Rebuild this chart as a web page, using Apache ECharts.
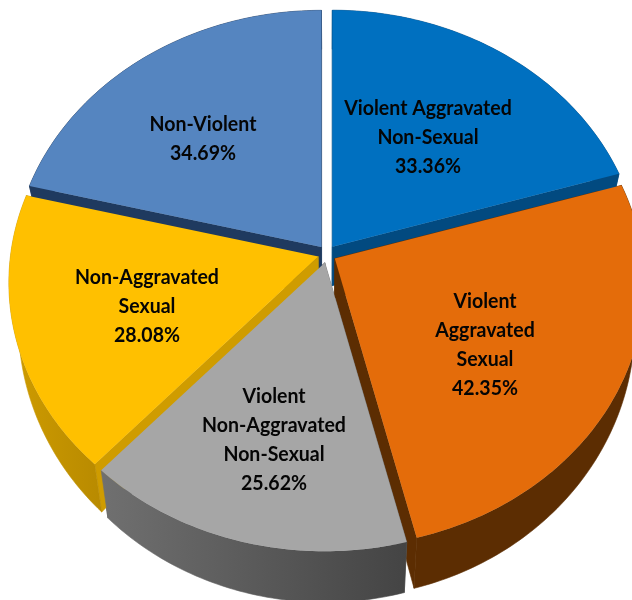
<!DOCTYPE html>
<html>
<head>
<meta charset="utf-8">
<style>html,body{margin:0;padding:0;background:#fff}#chart{width:632px;height:600px}</style>
<script src="https://cdn.jsdelivr.net/npm/echarts@6/dist/echarts.min.js"></script>
</head>
<body>
<div id="chart"></div>
<script>
// Offence categories and their shares, clockwise from twelve o'clock
const categories = [
  'Violent Aggravated\nNon-Sexual',
  'Violent\nAggravated\nSexual',
  'Violent\nNon-Aggravated\nNon-Sexual',
  'Non-Aggravated\nSexual',
  'Non-Violent'
];
const values = [33.36, 42.35, 25.62, 28.08, 34.69];

// Styling per slice: top face, wall start and wall end colours
const faceColors = ['#0070c0', '#e46c0a', '#a6a6a6', '#ffc000', '#5585c0'];
const wallFrom = ['#024a80', '#5c2d02', '#707070', '#cf9c00', '#1f3a5f'];
const wallTo = ['#024a80', '#5c2d02', '#444444', '#b88a00', '#1f3a5f'];
const labelAnchors = [[428, 137], [485, 345], [274, 440], [147, 306], [203, 139]];
// Back-to-front painting order of the slices
const paintOrder = [4, 0, 3, 2, 1];

// Tilted-disc projection
const disc = { cx: 327, cy: 254, rx: 308, ry: 260, k: 0.099, explode: 9, shrink: 0.97 };

const total = values.reduce((a, b) => a + b, 0);
const spans = [];
values.reduce((start, v) => {
  const end = start + v / total * 360;
  spans.push([start, end]);
  return end;
}, 0);

function project(deg, radius, tip) {
  const t = deg * Math.PI / 180;
  const u = Math.sin(t) * radius, v = -Math.cos(t) * radius;
  const w = 1 - disc.k * v;
  return [tip[0] + disc.rx * u / w, tip[1] + disc.ry * v / w, v];
}
function drop(p) {
  return [disc.cx + (p[0] - disc.cx) * disc.shrink, p[1] + 39 + 12 * Math.max(p[2], 0)];
}
function poly(points, fill, z2, seal) {
  return { type: 'polygon', z2, silent: true,
    shape: { points: points.map(p => [p[0], p[1]]) },
    style: { fill, stroke: seal ? fill : null, lineWidth: seal ? 0.6 : 0 } };
}

function renderSlice(params) {
  const i = paintOrder[params.dataIndex];
  const [a0, a1] = spans[i];
  const mid = (a0 + a1) / 2 * Math.PI / 180;
  const tip = [disc.cx + disc.explode * Math.sin(mid), disc.cy - disc.explode * Math.cos(mid)];
  const arc = [];
  for (let a = a0; a < a1; a += 1) arc.push(project(a, 1, tip));
  arc.push(project(a1, 1, tip));
  const tipPt = [tip[0], tip[1], 0];
  const wall = new echarts.graphic.LinearGradient(0, 0, 1, 0, [
    { offset: 0, color: wallFrom[i] }, { offset: 1, color: wallTo[i] }
  ]);
  const first = arc[0], last = arc[arc.length - 1];
  return {
    type: 'group',
    children: [
      poly([tipPt, last, drop(last), drop(tipPt)], wallTo[i], 1, true),
      poly([tipPt, first, drop(first), drop(tipPt)], wallFrom[i], 2, true),
      poly(arc.concat(arc.map(drop).reverse()), wall, 3, true),
      poly([tipPt].concat(arc), faceColors[i], 4, false)
    ]
  };
}

function renderLabel(params) {
  const i = params.dataIndex;
  return {
    type: 'text', silent: true,
    x: labelAnchors[i][0], y: labelAnchors[i][1],
    scaleX: 0.93,
    style: {
      text: categories[i] + '\n' + values[i].toFixed(2) + '%',
      fill: '#050505',
      font: 'bold 21px Lato',
      lineHeight: 29,
      align: 'center',
      verticalAlign: 'middle'
    }
  };
}

const chart = echarts.init(document.getElementById('chart'), null, { renderer: 'canvas' });
chart.setOption({
  animation: false,
  backgroundColor: '#ffffff',
  series: [
    { type: 'custom', coordinateSystem: 'none', renderItem: renderSlice, z: 1, data: paintOrder, clip: false },
    { type: 'custom', coordinateSystem: 'none', renderItem: renderLabel, z: 2, data: values, clip: false }
  ]
});
</script>
</body>
</html>
